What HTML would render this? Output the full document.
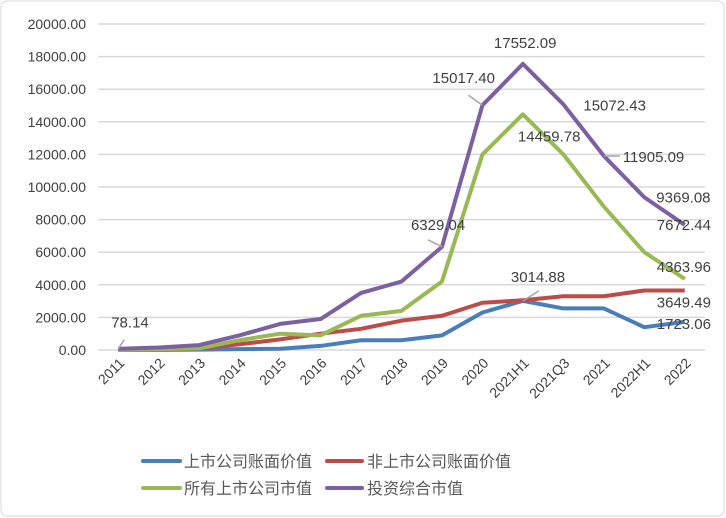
<!DOCTYPE html>
<html><head><meta charset="utf-8"><style>
body{margin:0;background:#fff}
svg{display:block}
text{font-family:"Liberation Sans","Noto Sans CJK SC",sans-serif;fill:#404040}
</style></head><body>
<svg id="c" width="726" height="518">
<rect x="1" y="1" width="723" height="515" rx="6" fill="#fff" stroke="#d9d9d9"/>
<g id="grid"></g><g id="lines"></g><g id="labels"></g>
<g font-size="16">
<line x1="143" y1="461" x2="180" y2="461" stroke="#4a7ebb" stroke-width="4" stroke-linecap="round"/>
<text x="184" y="467" style="fill:#595959">上市公司账面价值</text>
<line x1="327" y1="461" x2="362" y2="461" stroke="#be4b48" stroke-width="4" stroke-linecap="round"/>
<text x="367" y="467" style="fill:#595959">非上市公司账面价值</text>
<line x1="143" y1="488" x2="180" y2="488" stroke="#98b954" stroke-width="4" stroke-linecap="round"/>
<text x="184" y="494" style="fill:#595959">所有上市公司市值</text>
<line x1="327" y1="488" x2="362" y2="488" stroke="#7d60a0" stroke-width="4" stroke-linecap="round"/>
<text x="367" y="494" style="fill:#595959">投资综合市值</text>
</g>
</svg>
<script>
const categories=["2011","2012","2013","2014","2015","2016","2017","2018","2019","2020","2021H1","2021Q3","2021","2022H1","2022"];
const listedBook=[0,10,20,50,80,250,600,600,900,2300,3014.88,2550,2550,1400,1723.06];
const unlistedBook=[0,30,100,350,650,1000,1300,1800,2100,2900,3050,3300,3300,3650,3649.49];
const listedMarket=[0,50,100,600,1000,900,2100,2400,4200,12000,14459.78,12000,8800,6000,4363.96];
const totalMarket=[78.14,150,300,900,1600,1900,3500,4200,6329.04,15017.40,17552.09,15072.43,11905.09,9369.08,7672.44];
const yTicks=[0,2000,4000,6000,8000,10000,12000,14000,16000,18000,20000];
const NS="http://www.w3.org/2000/svg";
const L=98,R=705,Y0=350,Y1=24;
const bw=(R-L)/categories.length;
const x=i=>L+bw*(i+0.5);
const y=v=>Y0-(v/20000)*(Y0-Y1);
function mk(t,a,p){const e=document.createElementNS(NS,t);for(const k in a)e.setAttribute(k,a[k]);p.appendChild(e);return e;}
const grid=document.getElementById('grid'),lines=document.getElementById('lines'),labels=document.getElementById('labels');
yTicks.forEach(v=>{
 const g=mk('line',{x1:L,x2:R,y1:y(v),y2:y(v),stroke:'#d9d9d9','stroke-width':1.5},grid);
 
 
 const t=mk('text',{x:86,y:y(v)+5,'text-anchor':'end','font-size':14},grid);
 t.textContent=v.toFixed(2);
 
 
});
categories.forEach((c,i)=>{
 const t=mk('text',{x:x(i)+7,y:364,'text-anchor':'end','font-size':14,transform:`rotate(-45 ${x(i)+7} 364)`},grid);
 t.textContent=c;
 
 
});
const series=[[listedBook,'#4a7ebb','series-listed-book'],[unlistedBook,'#be4b48','series-unlisted-book'],[listedMarket,'#98b954','series-listed-market'],[totalMarket,'#7d60a0','series-total']];
series.forEach(([d,col,n])=>{
 const p=mk('polyline',{points:d.map((v,i)=>x(i)+','+y(v)).join(' '),fill:'none',stroke:col,'stroke-width':4,'stroke-linejoin':'round'},lines);
 
 
});
// data labels: [series, index, dx, dy, leader dx, leader dy]
const lab=[[totalMarket,0,-7,-21,6,-9],[totalMarket,8,-31,-17,-14,-7],[totalMarket,9,-50,-22,-14,-10],[totalMarket,10,-29,-16,0,0],[totalMarket,11,20,6,0,0],[totalMarket,12,19,6,16,0],[totalMarket,13,12,5,0,0],[totalMarket,14,-28,5,0,0],[listedMarket,10,-5,27,0,0],[listedMarket,14,-28,-7,0,0],[listedBook,10,-12,-19,16,-10],[unlistedBook,14,-28,17,0,0],[listedBook,14,-28,7,0,0]];
lab.forEach(([d,i,dx,dy,lx,ly])=>{
 const px=x(i),py=y(d[i]);
 if(lx||ly){const l=mk('line',{x1:px,y1:py,x2:px+lx,y2:py+ly,stroke:'#a6a6a6','stroke-width':1.5},labels);
 
 }
 const t=mk('text',{x:px+dx,y:py+dy,'font-size':15},labels);
 t.textContent=d[i].toFixed(2);
 
 
});
</script>
</body></html>
